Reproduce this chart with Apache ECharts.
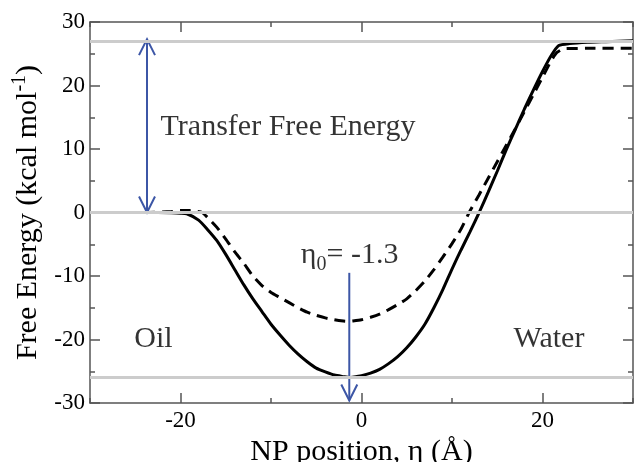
<!DOCTYPE html>
<html>
<head>
<meta charset="utf-8">
<script src="https://cdn.jsdelivr.net/npm/echarts@6/dist/echarts.min.js"></script>
<style>
  html, body { margin: 0; padding: 0; background: #fff; }
  #chart { width: 635px; height: 462px; }
</style>
</head>
<body>
<div id="chart"></div>
<script>
// free energy profiles (kcal/mol) vs NP position (Å)
const solidX = [-30, -27, -24, -21, -20, -19.3, -18, -17, -16, -15, -14, -13, -12, -11, -10, -9, -8, -7, -6, -5, -4, -3, -2, -1.3, -1,
  0, 1, 2, 3, 4, 5, 6, 7, 8, 9, 10, 11, 12, 13, 14, 15, 16, 17, 18, 19, 20, 21, 21.8, 23, 25, 27, 30];
const solidY = [0, 0, 0, -0.05, -0.1, -0.2, -1.2, -2.7, -4.4, -6.6, -9.0, -11.4, -13.6, -15.6, -17.6, -19.3, -20.9, -22.3, -23.5, -24.5, -25.1, -25.6, -25.85, -26.0, -25.95,
  -25.7, -25.3, -24.7, -23.8, -22.7, -21.3, -19.6, -17.6, -15.0, -12.1, -8.9, -5.9, -3.0, 0, 3.2, 6.5, 9.9, 13.1, 16.3, 19.3, 22.2, 24.8, 26.3, 26.6, 26.8, 26.9, 27.05];

const dashedX = [-30, -27, -24, -21, -20, -19, -18.3, -17.6, -17, -16, -15, -14, -13, -12, -11, -10, -9, -8, -7, -6, -5, -4, -3, -2, -1.4, -1,
  0, 1, 2, 3, 4, 5, 6, 7, 8, 9, 10, 11, 11.9, 13, 14, 15, 16, 17, 18, 19, 20, 21, 21.6, 22.4, 25, 30];
const dashedY = [0, 0, 0, 0.15, 0.3, 0.3, 0.2, 0, -0.8, -2.3, -4.2, -6.2, -8.0, -10.0, -11.5, -12.6, -13.4, -14.2, -15.0, -15.7, -16.2, -16.6, -16.9, -17.1, -17.15, -17.1,
  -16.9, -16.5, -16.0, -15.3, -14.5, -13.6, -12.3, -10.8, -9.0, -7.0, -4.9, -2.6, 0, 2.8, 5.4, 8.0, 10.6, 13.2, 15.9, 18.6, 21.3, 24.0, 25.2, 25.8, 25.85, 25.85];

// grey reference levels
const refLevels = [27, 0, -26];

// arrows: x, start y, end y (tip), heads (2 = both ends)
const arrowX = [-23.7, -1.35];
const arrowStart = [0, -9.5];
const arrowEnd = [27.3, -29.6];
const arrowHeads = [2, 1];

// text notes
const noteX = [-22.2, -25.1, 16.8, -6.7];
const noteY = [13.5, -20.0, -20.0, -6.8];
const noteText = ['Transfer Free Energy', 'Oil', 'Water', '{t|η}{s|0}{t|= -1.3}'];

const xLabelTicks = [-20, 0, 20];
const xMinorTicks = [-30, -10, 10, 30];

const FONT = "'Liberation Serif', 'Times New Roman', serif";
const INK = '#000';
const AXIS = { color: '#555', width: 1.5 };

const chart = echarts.init(document.getElementById('chart'));

function arrowItem(params, api) {
  const x = api.value(0);
  const p1 = api.coord([x, api.value(1)]);
  const p2 = api.coord([x, api.value(2)]);
  const heads = api.value(3);
  const style = { stroke: '#3c56a6', lineWidth: 2, fill: null };
  const head = (tip, dir) => ({
    type: 'polyline',
    shape: { points: [[tip[0] - 8, tip[1] - dir * 16], tip, [tip[0] + 8, tip[1] - dir * 16]] },
    style: style
  });
  const dir = p2[1] > p1[1] ? 1 : -1;
  const children = [
    { type: 'line', shape: { x1: p1[0], y1: p1[1], x2: p2[0], y2: p2[1] }, style: style },
    head(p2, dir)
  ];
  if (heads === 2) children.push(head(p1, -dir));
  return { type: 'group', children: children };
}

function xAxisPart(position, ticks, len, showLine, label) {
  return {
    type: 'value', min: -30, max: 30, interval: 10, position: position,
    axisLine: { show: showLine, onZero: false, lineStyle: AXIS },
    axisTick: { inside: true, length: len, customValues: ticks, lineStyle: AXIS },
    axisLabel: label || { show: false },
    splitLine: { show: false }
  };
}

const xMain = xAxisPart('bottom', xMinorTicks, 5, true,
  { customValues: xLabelTicks, fontFamily: FONT, fontSize: 23, color: INK, margin: 6 });
xMain.name = 'NP position, η (Å)';
xMain.nameLocation = 'middle';
xMain.nameGap = 29;
xMain.nameTextStyle = { fontFamily: FONT, fontSize: 30, color: INK };

const option = {
  animation: false,
  grid: { left: 90, right: 2, top: 22, bottom: 59, outerBoundsMode: 'none', containLabel: false },
  xAxis: [
    xMain,
    xAxisPart('bottom', xLabelTicks, 10, false),
    xAxisPart('top', xMinorTicks, 5, true),
    xAxisPart('top', xLabelTicks, 10, false)
  ],
  yAxis: [
    {
      type: 'value', min: -30, max: 30, interval: 10, position: 'left',
      axisLine: { onZero: false, lineStyle: AXIS },
      axisTick: { inside: true, length: 10, lineStyle: AXIS },
      minorTick: { show: true, splitNumber: 2, length: 5, lineStyle: AXIS },
      axisLabel: { fontFamily: FONT, fontSize: 23, color: INK, margin: 5 },
      splitLine: { show: false },
      name: '{a|Free Energy (kcal mol}{b|-1}{a|)}',
      nameLocation: 'middle',
      nameGap: 37,
      nameTextStyle: {
        fontFamily: FONT, fontSize: 30, color: INK,
        rich: {
          a: { fontFamily: FONT, fontSize: 30, color: INK, lineHeight: 32, verticalAlign: 'bottom' },
          b: { fontFamily: FONT, fontSize: 20, color: INK, lineHeight: 20, verticalAlign: 'bottom', padding: [0, 0, 14, 0] }
        }
      }
    },
    {
      type: 'value', min: -30, max: 30, interval: 10, position: 'right',
      axisLine: { onZero: false, lineStyle: AXIS },
      axisTick: { inside: true, length: 10, lineStyle: AXIS },
      minorTick: { show: true, splitNumber: 2, length: 5, lineStyle: AXIS },
      axisLabel: { show: false },
      splitLine: { show: false }
    }
  ],
  series: [
    {
      name: 'levels',
      type: 'line',
      data: [],
      z: 1,
      markLine: {
        silent: true,
        symbol: 'none',
        label: { show: false },
        lineStyle: { color: '#cccccc', width: 3, type: 'solid' },
        data: refLevels.map(v => ({ yAxis: v }))
      }
    },
    {
      name: 'solid',
      type: 'line',
      z: 3,
      showSymbol: false,
      smooth: 0.2,
      lineStyle: { color: '#000', width: 3 },
      data: solidX.map((x, i) => [x, solidY[i]])
    },
    {
      name: 'dashed',
      type: 'line',
      z: 3,
      showSymbol: false,
      smooth: 0.2,
      lineStyle: { color: '#000', width: 3, type: [11, 7] },
      data: dashedX.map((x, i) => [x, dashedY[i]])
    },
    {
      name: 'arrows',
      type: 'custom',
      z: 4,
      renderItem: arrowItem,
      data: arrowX.map((x, i) => [x, arrowStart[i], arrowEnd[i], arrowHeads[i]])
    },
    {
      name: 'notes',
      type: 'scatter',
      z: 5,
      symbolSize: 0,
      silent: true,
      label: {
        show: true,
        position: 'right',
        distance: 0,
        fontFamily: FONT,
        fontSize: 30,
        color: INK,
        textBorderWidth: 0,
        formatter: p => noteText[p.dataIndex],
        rich: {
          t: { fontFamily: FONT, fontSize: 30, color: INK, lineHeight: 32, verticalAlign: 'top' },
          s: { fontFamily: FONT, fontSize: 20, color: INK, lineHeight: 20, verticalAlign: 'top', padding: [15, 0, 0, 0] }
        }
      },
      data: noteX.map((x, i) => [x, noteY[i]])
    }
  ]
};

chart.setOption(option);
</script>
</body>
</html>
